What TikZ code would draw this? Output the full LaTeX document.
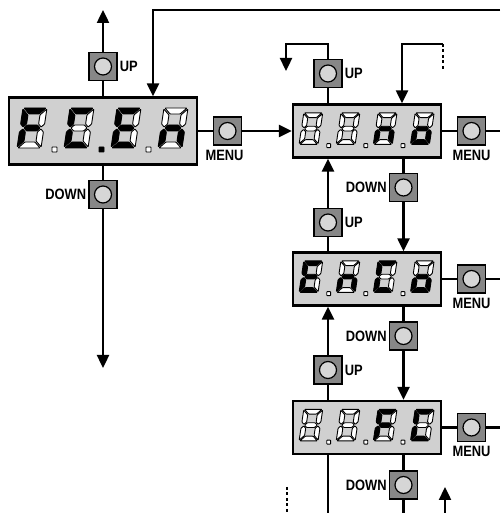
\documentclass[tikz,border=0pt]{standalone}
\usepackage{fontspec}
\newfontfamily\keyfont[FakeStretch=0.86]{Liberation Sans}
\usetikzlibrary{positioning, arrows.meta}

\definecolor{panelgray}{RGB}{208,208,208}
\definecolor{keygray}{RGB}{135,135,135}
\definecolor{keylight}{RGB}{214,214,214}

% one slanted seven-segment digit, segments as abcdefg (1 = lit)
\newcommand\segdigit[2]{%
  \begin{scope}[shift={(#1,-17)}, xslant=0.15]
    \segbits#2\relax
  \end{scope}}
\def\segbits#1#2#3#4#5#6#7\relax{%
  \draw[seg#1] (1,40) -- (23,40) -- (17,34) -- (7,34) -- cycle;
  \draw[seg#2] (24,39) -- (24,24) -- (21,21) -- (18,24) -- (18,33) -- cycle;
  \draw[seg#3] (24,1) -- (24,16) -- (21,19) -- (18,16) -- (18,7) -- cycle;
  \draw[seg#4] (1,0) -- (23,0) -- (17,6) -- (7,6) -- cycle;
  \draw[seg#5] (0,1) -- (0,16) -- (3,19) -- (6,16) -- (6,7) -- cycle;
  \draw[seg#6] (0,39) -- (0,24) -- (3,21) -- (6,24) -- (6,33) -- cycle;
  \draw[seg#7] (4,20) -- (7,23) -- (17,23) -- (20,20) -- (17,17) -- (7,17) -- cycle;}
\def\segdots#1#2#3\relax{%
  \draw[seg#1] (-51,-21) rectangle ++(5,5);
  \draw[seg#2] (-4,-21) rectangle ++(5,5);
  \draw[seg#3] (43,-21) rectangle ++(5,5);}
% four digits and three dots on a display node
\newcommand\segpanel[7]{%
  \begin{scope}[shift={(#1.center)}, scale=#2]
    \segdigit{-86}{#3}\segdigit{-39}{#4}\segdigit{8}{#5}\segdigit{55}{#6}
    \segdots#7\relax
  \end{scope}}

\begin{document}
\begin{tikzpicture}[x=1pt, y=1pt,
    panel/.style={draw, line width=2.4pt, fill=panelgray,
      minimum width=188, minimum height=67, inner sep=0pt},
    smallpanel/.style={panel, minimum width=148, minimum height=53},
    key/.style={draw, line width=1.2pt, fill=keygray, minimum size=28,
      inner sep=0pt, path picture={\draw[fill=keylight, line width=1.2pt]
        (path picture bounding box.center) circle (8.5);}},
    keylabel/.style={font=\keyfont\bfseries\fontsize{15}{15}\selectfont,
      inner sep=0pt},
    wire/.style={line width=2.4pt},
    arrow/.style={wire, -{Triangle[length=13pt, width=12pt]}},
    dashwire/.style={line width=2.4pt, dash pattern=on 3pt off 2.5pt},
    seg0/.style={fill=white, draw=black, line width=0.9pt, line join=round,
      rounded corners=0.6pt},
    seg1/.style={seg0, fill=black},
  ]
    \fill[white] (0,0) rectangle (500,513);
    \useasboundingbox (0,0) rectangle (500,513);

    \coordinate (bottom) at (0,0);
    \coordinate (redge) at (500,0);

    % displays
    \node[panel] (d1) at (103,382) {};
    \node[smallpanel] (d2) at (367,382) {};
    \node[smallpanel] (d3) at (367,234) {};
    \node[smallpanel] (d4) at (367,85.5) {};

    \segpanel{d1}{1}{1000111}{1001110}{1001111}{0010101}{010}
    \segpanel{d2}{0.79}{0000000}{0000000}{0010101}{0011101}{000}
    \segpanel{d3}{0.79}{1001111}{0010101}{1001110}{0011101}{000}
    \segpanel{d4}{0.79}{0000000}{0000000}{1000111}{1001110}{000}

    % keys
    \node[key] (up1) at (103,446.5) {};
    \node[key] (down1) at (103,318.5) {};
    \node[key] (menu1) at (227.5,382) {};
    \node[key] (up2) at (328,439.5) {};
    \node[key] (menu2) at (471.5,382) {};
    \node[key] (down2) at (403.5,325.5) {};
    \node[key] (up3) at (328,290.5) {};
    \node[key] (menu3) at (471.5,234) {};
    \node[key] (down3) at (403.5,177) {};
    \node[key] (up4) at (328,143) {};
    \node[key] (menu4) at (471.5,85.5) {};
    \node[key] (down4) at (403.5,28) {};

    \node[keylabel, right=2pt of up1] (uplab1) {UP};
    \node[keylabel, left=2pt of down1] (downlab1) {DOWN};
    \node[keylabel, below=4pt of menu1, xshift=-3pt] (menulab1) {MENU};
    \node[keylabel, right=2pt of up2] (uplab2) {UP};
    \node[keylabel, below=4pt of menu2] (menulab2) {MENU};
    \node[keylabel, left=2pt of down2] (downlab2) {DOWN};
    \node[keylabel, right=2pt of up3] (uplab3) {UP};
    \node[keylabel, below=4pt of menu3] (menulab3) {MENU};
    \node[keylabel, left=2pt of down3] (downlab3) {DOWN};
    \node[keylabel, right=2pt of up4] (uplab4) {UP};
    \node[keylabel, below=4pt of menu4] (menulab4) {MENU};
    \node[keylabel, left=2pt of down4] (downlab4) {DOWN};

    % free ends
    \coordinate (uptip) at (103,503);
    \coordinate (downtip) at (103,145);
    \coordinate (fb) at (500,503);
    \coordinate (loopTop) at (286,469);
    \coordinate (loopL) at (286,442);
    \coordinate (loopR) at (443,469);
    \coordinate (loopRend) at (443,442);
    \coordinate (dashL) at (287,26);
    \coordinate (retTip) at (445,26);

    % first display
    \draw[wire] (d1.north) -- (up1.south);
    \draw[arrow] (up1.north) -- (uptip);
    \draw[wire] (d1.south) -- (down1.north);
    \draw[arrow] (down1.south) -- (downtip);
    \draw[wire] (d1.east) -- (menu1.west);
    \draw[arrow] (menu1.east) -- (d2.west);
    \draw[arrow] (fb) -| ([xshift=50pt]d1.north);

    % right column
    \draw[wire] (up2.south) -- (up2 |- d2.north);
    \draw[arrow] (up2.north) |- (loopTop) -- (loopL);
    \draw[arrow] (loopR) -| ([xshift=35pt]d2.north);
    \draw[dashwire] (loopR) -- (loopRend);
    \draw[wire] (down2.north) -- (down2 |- d2.south);
    \draw[arrow] (down2.south) -- (down2 |- d3.north);
    \draw[arrow] (up3.north) -- (up3 |- d2.south);
    \draw[wire] (up3.south) -- (up3 |- d3.north);
    \draw[wire] (down3.north) -- (down3 |- d3.south);
    \draw[arrow] (down3.south) -- (down3 |- d4.north);
    \draw[arrow] (up4.north) -- (up4 |- d3.south);
    \draw[wire] (up4.south) -- (up4 |- d4.north);
    \draw[wire] (down4.north) -- (down4 |- d4.south);
    \draw[wire] (down4.south) -- (down4 |- bottom);
    \draw[wire] (up4 |- d4.south) -- (up4 |- bottom);
    \draw[dashwire] (dashL) -- (dashL |- bottom);
    \draw[arrow] (retTip |- bottom) -- (retTip);

    \foreach \d/\m in {d2/menu2, d3/menu3, d4/menu4} {
      \draw[wire] (\d.east) -- (\m.west);
      \draw[wire] (\m.east) -- (\m.east -| redge);
    }
  \end{tikzpicture}
\end{document}
